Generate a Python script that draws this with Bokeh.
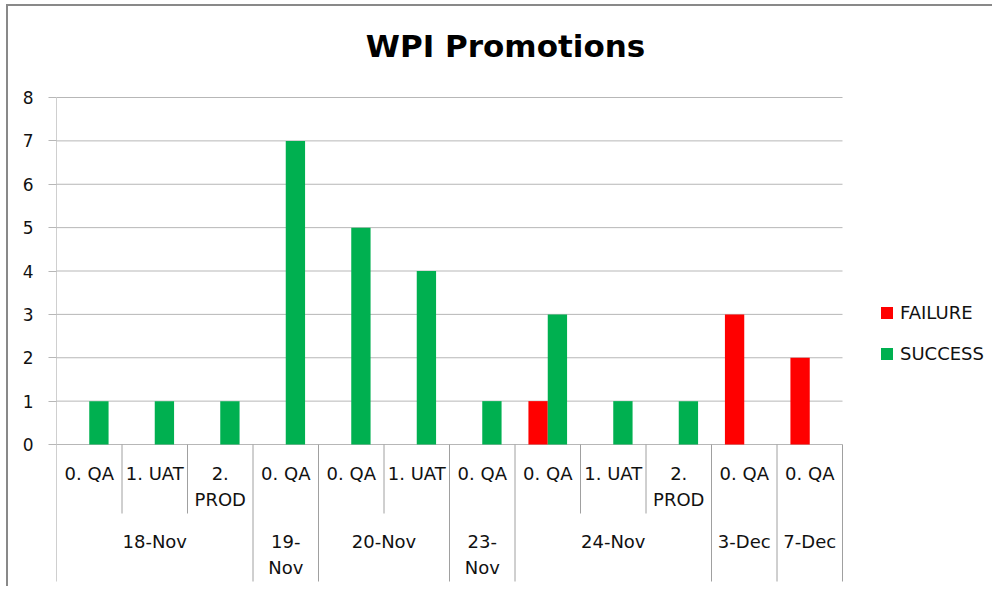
from bokeh.plotting import figure
from bokeh.models import Range1d, FixedTicker, ColumnDataSource, Legend, LegendItem
from bokeh.transform import dodge
from bokeh.core.properties import value
from bokeh.embed import file_html
from bokeh.resources import INLINE

# ---- data ----
dates = ["18-Nov", "18-Nov", "18-Nov", "19-Nov", "20-Nov", "20-Nov", "23-Nov",
         "24-Nov", "24-Nov", "24-Nov", "3-Dec", "7-Dec"]
stages = ["0. QA", "1. UAT", "2. PROD", "0. QA", "0. QA", "1. UAT", "0. QA",
          "0. QA", "1. UAT", "2. PROD", "0. QA", "0. QA"]
failure = [0, 0, 0, 0, 0, 0, 0, 1, 0, 0, 3, 2]
success = [1, 1, 1, 7, 5, 4, 1, 3, 1, 1, 0, 0]
y_ticks = [0, 1, 2, 3, 4, 5, 6, 7, 8]
title_text = "WPI Promotions"

# ---- layout constants (pixels) ----
CW = 65.5        # px per category
UH = 43.375      # px per y unit
CANVAS_W = 986
CANVAS_H = 582
LEFT = 48
FRAME_W = CANVAS_W - LEFT
FRAME_H = CANVAS_H
ZERO_FROM_TOP = 438   # zero line distance from frame top
n = len(stages)

y_top = ZERO_FROM_TOP / UH
y_bot = -(FRAME_H - ZERO_FROM_TOP) / UH

FONT = value("DejaVu Sans")
GRID = "#b7b7b7"
SEP = "#a0a0a0"
TXT = "#111111"

p = figure(width=CANVAS_W, height=CANVAS_H, output_backend="svg", toolbar_location=None,
           x_range=Range1d(0, FRAME_W / CW), y_range=Range1d(y_bot, y_top),
           x_axis_location=None, min_border_left=LEFT, min_border_right=0,
           min_border_top=0, min_border_bottom=0, outline_line_color=None,
           tools="")
p.styles = {"margin-left": "6px", "margin-top": "4px",
            "border-left": "2px solid #898989", "border-top": "2px solid #898989"}
p.grid.visible = False

ax = p.yaxis[0]
ax.ticker = FixedTicker(ticks=y_ticks)
ax.axis_line_color = None
ax.major_tick_out = 8
ax.major_tick_in = 0
ax.major_tick_line_color = GRID
ax.minor_tick_line_color = None
ax.major_label_standoff = 15
ax.major_label_text_font = "DejaVu Sans"
ax.major_label_text_font_size = "17px"
ax.major_label_text_color = TXT

# gridlines
p.segment(x0=[0] * len(y_ticks), x1=[n] * len(y_ticks), y0=y_ticks, y1=y_ticks,
          line_color=GRID, line_width=1)

# bars
xc = [i + 0.5 for i in range(n)]
src = ColumnDataSource(dict(x=xc, failure=failure, success=success))
BW = 0.295
rf = p.vbar(x=dodge("x", -BW / 2, range=p.x_range), top="failure", bottom=0, width=BW,
            source=src, fill_color="#ff0000", line_color=None)
rs = p.vbar(x=dodge("x", BW / 2, range=p.x_range), top="success", bottom=0, width=BW,
            source=src, fill_color="#00b050", line_color=None)

# category axis: separators
groups = []
for i, d in enumerate(dates):
    if groups and groups[-1][0] == d:
        groups[-1][2] = i + 1
    else:
        groups.append([d, i, i + 1])
group_edges = set([g[1] for g in groups] + [g[2] for g in groups])
short_y = -69 / UH
long_y = -137 / UH
sx, sy0, sy1 = [], [], []
for b in range(n + 1):
    sx.append(b)
    sy0.append(0)
    sy1.append(long_y if b in group_edges else short_y)
p.segment(x0=sx, x1=sx, y0=sy0, y1=sy1, line_color=SEP, line_width=1)
# y axis line up to top gridline
p.segment(x0=[0], x1=[0], y0=[0], y1=[max(y_ticks)], line_color=SEP, line_width=1)

# level-1 labels
LINE = 26 / UH
l1x, l1y, l1t = [], [], []
for i, s in enumerate(stages):
    lines = s.split(" ") if len(s) > 6 else [s]
    if len(lines) > 1:
        lines = [lines[0], " ".join(lines[1:])]
    for k, t in enumerate(lines):
        l1x.append(i + 0.5)
        l1y.append(-29 / UH - k * LINE)
        l1t.append(t)
p.text(x=l1x, y=l1y, text=l1t, text_font=FONT, text_font_size="18px",
       text_color=TXT, text_align="center", text_baseline="middle")

# level-2 labels
l2x, l2y, l2t = [], [], []
for d, a, b in groups:
    if b - a == 1 and len(d) > 5:
        lines = [d[:d.index("-") + 1], d[d.index("-") + 1:]]
    else:
        lines = [d]
    for k, t in enumerate(lines):
        l2x.append((a + b) / 2)
        l2y.append(-97 / UH - k * LINE)
        l2t.append(t)
p.text(x=l2x, y=l2y, text=l2t, text_font=FONT, text_font_size="18px",
       text_color=TXT, text_align="center", text_baseline="middle")

# title
p.text(x=[(505 - 56) / CW], y=[(444 - 45) / UH], text=[title_text],
       text_font=FONT, text_font_size="31px", text_font_style="bold",
       text_color="#000000", text_align="center", text_baseline="middle")

# legend (location measured from frame bottom-left)
legend = Legend(items=[LegendItem(label="FAILURE", renderers=[rf]),
                       LegendItem(label="SUCCESS", renderers=[rs])],
                location=(879 - 56, (6 + CANVAS_H) - 364), orientation="vertical",
                glyph_width=15, glyph_height=15, label_height=20, spacing=20,
                label_standoff=6, padding=0, margin=0,
                border_line_color=None, background_fill_alpha=0,
                label_text_font="DejaVu Sans", label_text_font_size="18px",
                label_text_color=TXT)
p.add_layout(legend)

open("out.html", "w").write(file_html(p, INLINE))
